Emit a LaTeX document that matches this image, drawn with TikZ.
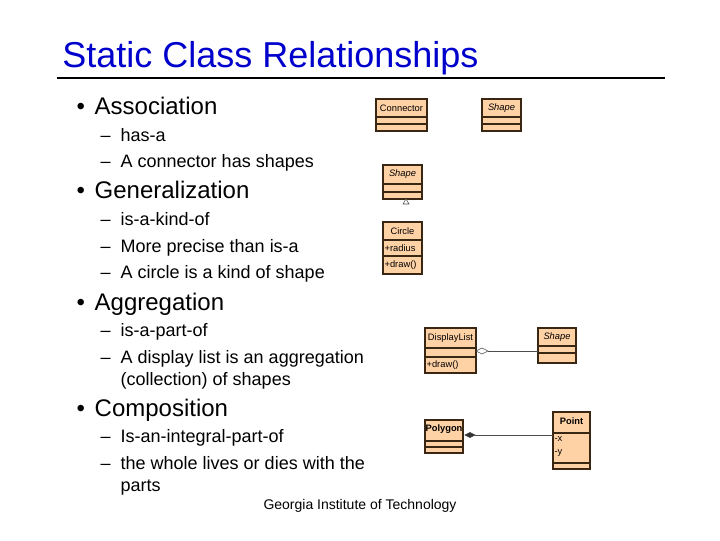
\documentclass[tikz,border=0pt]{standalone}
\usepackage{fontspec}
\setmainfont{Liberation Sans}
\begin{document}
\begin{tikzpicture}[x=0.75pt,y=-0.75pt,
 bul/.style={anchor=base west,font=\fontsize{18}{20}\selectfont},
 sub/.style={anchor=base west,font=\fontsize{13.5}{16}\selectfont,align=left},
 cls/.style={draw=black!70!brown,fill=orange!35!white,line width=0.8pt},
 ct/.style={font=\fontsize{7}{8}\selectfont}]
\useasboundingbox (0,0) rectangle (720,540);
\node[anchor=base west,text=blue!80!black,font=\fontsize{27}{30}\selectfont,inner sep=0pt] (title) at (62,67) {Static Class Relationships};
\draw[line width=2.2pt] (57,78) -- (665,78);
\newcommand{\bl}{\makebox[13.5pt][l]{\textbullet}}
\newcommand{\ds}{\makebox[15pt][l]{--}}
\node[bul] (b1) at (72,114) {\bl Association};
\node[sub] (s1) at (96,141) {\ds has-a};
\node[sub] (s2) at (96,167) {\ds A connector has shapes};
\node[bul] (b2) at (72,198) {\bl Generalization};
\node[sub] (s3) at (96,225) {\ds is-a-kind-of};
\node[sub] (s4) at (96,252) {\ds More precise than is-a};
\node[sub] (s5) at (96,278) {\ds A circle is a kind of shape};
\node[bul] (b3) at (72,310) {\bl Aggregation};
\node[sub] (s6) at (96,336) {\ds is-a-part-of};
\node[sub] (s7) at (96,363) {\ds A display list is an aggregation};
\node[sub] (s8) at (116,385) {(collection) of shapes};
\node[bul] (b4) at (72,416) {\bl Composition};
\node[sub] (s9) at (96,442) {\ds Is-an-integral-part-of};
\node[sub] (s10) at (96,469) {\ds the whole lives or dies with the};
\node[sub] (s11) at (116,491) {parts};
\node[anchor=base,font=\fontsize{10.5}{12}\selectfont] (foot) at (360,509) {Georgia Institute of Technology};
% Connector / Shape
\draw[cls] (376,99) rectangle (427,131); \draw[cls] (376,117)--(427,117); \draw[cls] (376,124)--(427,124);
\node[ct] (conn) at (401.5,108) {Connector};
\draw[cls] (482,99) rectangle (521,131); \draw[cls] (482,117)--(521,117); \draw[cls] (482,124)--(521,124);
\node[ct] (sh1) at (501.5,108) {\itshape Shape};
% Generalization
\draw[cls] (383,165) rectangle (422,199); \draw[cls] (383,184)--(422,184); \draw[cls] (383,192)--(422,192);
\node[ct] (sh2) at (402.5,174) {\itshape Shape};
\coordinate (tri) at (406,199);
\draw[black!70,fill=white] (tri) -- (403,204) -- (409,204) -- cycle;
\draw[cls] (383,222) rectangle (422,274); \draw[cls] (383,240)--(422,240); \draw[cls] (383,256)--(422,256);
\node[ct] (circ) at (402.5,231) {Circle};
\node[ct,anchor=west,inner sep=1pt] (rad) at (383,248) {+radius};
\node[ct,anchor=west,inner sep=1pt] (drw1) at (383,265) {+draw()};
% Aggregation
\draw[cls] (425,328) rectangle (476,373); \draw[cls] (425,348)--(476,348); \draw[cls] (425,357)--(476,357);
\node[ct] (dl) at (450.5,338) {DisplayList};
\node[ct,anchor=west,inner sep=1pt] (drw2) at (425,365) {+draw()};
\draw[cls] (538,328) rectangle (576,363); \draw[cls] (538,346)--(576,346); \draw[cls] (538,353)--(576,353);
\node[ct] (sh3) at (557,337) {\itshape Shape};
\coordinate (ag1) at (476,351); \coordinate (ag2) at (538,351);
\draw[black!70] (ag1) -- ++(6,-3) -- ++(6,3) -- ++(-6,3) -- cycle;
\draw[black!70] (488,351) -- (ag2);
% Composition
\draw[cls] (425,420) rectangle (463,453); \draw[cls] (425,441)--(463,441); \draw[cls] (425,447)--(463,447);
\node[ct] (poly) at (444,429) {\bfseries Polygon};
\draw[cls] (553,412) rectangle (590,469); \draw[cls] (553,433)--(590,433); \draw[cls] (553,463)--(590,463);
\node[ct] (pt) at (571.5,421) {\bfseries Point};
\node[ct,anchor=west,inner sep=1pt] (px) at (553,439) {-x};
\node[ct,anchor=west,inner sep=1pt] (py) at (553,453) {-y};
\draw[black!80,fill=black!80] (465,435) -- ++(5,-2.5) -- ++(5,2.5) -- ++(-5,2.5) -- cycle;
\draw[black!70] (475,435) -- (553,435);
\end{tikzpicture}
\end{document}
